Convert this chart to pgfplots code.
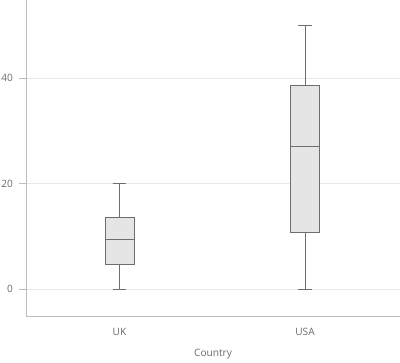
\documentclass[border=0pt]{standalone}
\usepackage{pgfplots}
\pgfplotsset{compat=1.18}
\usepgfplotslibrary{statistics}
\usepackage{fontspec}
\setmainfont{Open Sans}
\definecolor{boxfill}{HTML}{E5E5E5}
\definecolor{boxedge}{HTML}{6E6E6E}
\definecolor{txt}{HTML}{6A6A6A}
\definecolor{axl}{HTML}{BDBDBD}
\definecolor{gridc}{HTML}{E8E8E8}
\begin{document}
\begin{tikzpicture}
\useasboundingbox (-19.5pt,-34.5pt) rectangle (280.5pt,237pt);
\begin{axis}[
  scale only axis,
  width=280.5pt, height=237pt,
  xmin=-0.504, xmax=1.512,
  ymin=-5.1, ymax=54.8,
  axis lines=left,
  axis line style={-, color=axl, line width=0.6pt},
  ytick={0,20,40},
  xtick={0,1},
  xticklabels={UK,USA},
  ymajorgrids,
  grid style={color=gridc, line width=0.6pt},
  tick align=outside,
  ytick style={color=axl, line width=0.6pt},
  major tick length=5.25pt,
  xtick style={draw=none},
  /pgf/number format/assume math mode=true,
  tick label style={font=\fontsize{7.6}{9}\selectfont, color=txt},
  yticklabel style={xshift=-1pt},
  xticklabel style={yshift=-0.3pt},
  xlabel={Country},
  xlabel style={font=\fontsize{7.6}{9}\selectfont, color=txt, yshift=-3.2pt},
  boxplot/draw direction=y,
  boxplot/box extend=0.156,
  boxplot/whisker extend=0.075,
  clip=false,
]
\addplot+[boxplot prepared={
    draw position=0,
    lower whisker=0, lower quartile=4.75, median=9.5,
    upper quartile=13.65, upper whisker=20},
  draw=boxedge, fill=boxfill, line width=0.6pt, solid, mark=none]
  coordinates {};
\addplot+[boxplot prepared={
    draw position=1,
    lower whisker=0, lower quartile=10.8, median=27.1,
    upper quartile=38.7, upper whisker=50},
  draw=boxedge, fill=boxfill, line width=0.6pt, solid, mark=none]
  coordinates {};
\end{axis}
\end{tikzpicture}
\end{document}
